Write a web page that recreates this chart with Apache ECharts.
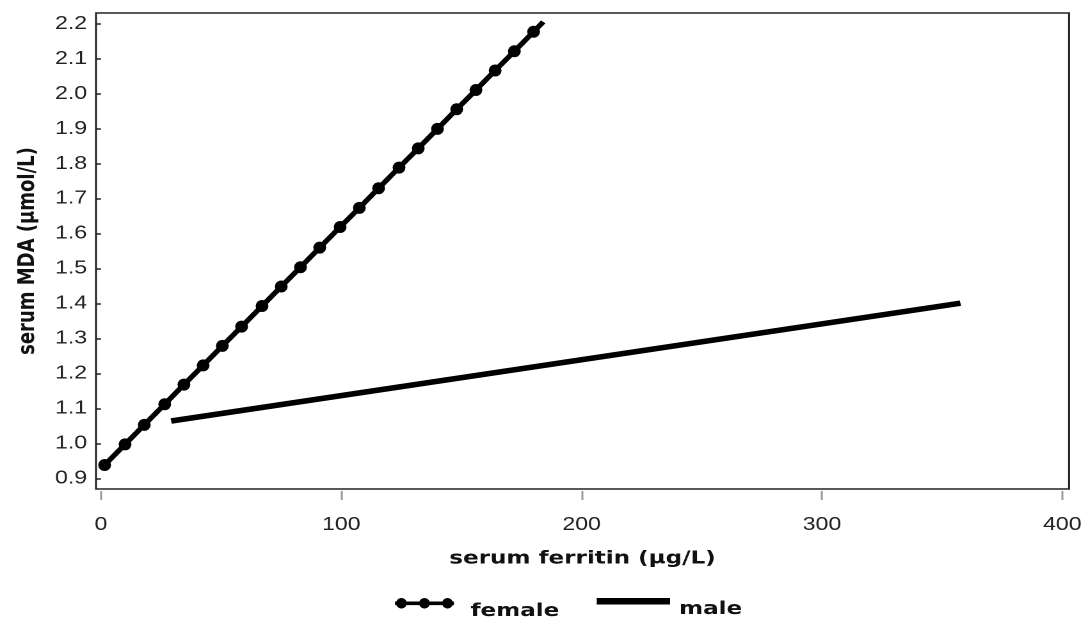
<!DOCTYPE html>
<html>
<head>
<meta charset="utf-8">
<script src="https://cdn.jsdelivr.net/npm/echarts@6/dist/echarts.min.js"></script>
<style>
  html, body { margin: 0; padding: 0; background: #fff; overflow: hidden; }
  #main { width: 849.2px; height: 621px; transform: scaleX(1.28); transform-origin: 0 0; }
</style>
</head>
<body>
<div id="main"></div>
<script>
// ---- data ----
const femaleX = [1.5, 10, 18, 26.5, 34.5, 42.5, 50.5, 58.5, 67, 75, 83, 91, 99.5, 107.5, 115.5, 124, 132, 140, 148, 156, 164, 172, 180, 184];
const femaleY = [0.938, 0.997, 1.053, 1.112, 1.168, 1.223, 1.279, 1.334, 1.393, 1.449, 1.504, 1.560, 1.619, 1.674, 1.730, 1.789, 1.844, 1.900, 1.956, 2.011, 2.067, 2.122, 2.178, 2.206];
const maleX = [29.2, 357.6];
const maleY = [1.064, 1.401];
const xTicks = [0, 100, 200, 300, 400];
const yTicks = [0.9, 1.0, 1.1, 1.2, 1.3, 1.4, 1.5, 1.6, 1.7, 1.8, 1.9, 2.0, 2.1, 2.2];
const seriesNames = ['female', 'male'];
const xTitle = 'serum ferritin (\u03bcg/L)';
const yTitle = 'serum MDA (\u03bcmol/L)';

const femaleData = femaleX.map((x, i) =>
  i === femaleX.length - 1 ? { value: [x, femaleY[i]], symbol: 'none' } : [x, femaleY[i]]);
const maleData = maleX.map((x, i) => [x, maleY[i]]);

const femaleIcon = 'path://M0,3.7H46V7.3H0Z' +
  'M0.8,5.5a4.2,5.3 0 1,1 8.4,0a4.2,5.3 0 1,1 -8.4,0Z' +
  'M18.8,5.5a4.2,5.3 0 1,1 8.4,0a4.2,5.3 0 1,1 -8.4,0Z' +
  'M36.8,5.5a4.2,5.3 0 1,1 8.4,0a4.2,5.3 0 1,1 -8.4,0Z';

const tickFont = { fontFamily: 'Liberation Sans', fontSize: 18, color: '#222' };
const titleFont = { fontFamily: 'DejaVu Sans', fontWeight: 'bold', fontSize: 18, color: '#111' };

const chart = echarts.init(document.getElementById('main'), null, { renderer: 'canvas', devicePixelRatio: 2 });
chart.setOption({
  animation: false,
  backgroundColor: '#fff',
  grid: { left: 75, right: 13.8, top: 13, bottom: 132, show: true, borderColor: '#222', borderWidth: 1.5, backgroundColor: 'transparent' },
  xAxis: {
    type: 'value', min: -2.08, max: 402.8, offset: 2,
    name: xTitle, nameLocation: 'middle', nameGap: 59, nameTextStyle: titleFont,
    axisLine: { show: false },
    splitLine: { show: false },
    axisTick: { show: true, length: 9, lineStyle: { color: '#999', width: 1.5 }, customValues: xTicks },
    axisLabel: Object.assign({ margin: 25, customValues: xTicks, formatter: v => String(v) }, tickFont)
  },
  yAxis: {
    type: 'value', min: 0.8694, max: 2.2315,
    name: yTitle, nameLocation: 'middle', nameGap: 44, nameRotate: 90, nameTextStyle: titleFont,
    axisLine: { show: false },
    splitLine: { show: false },
    axisTick: { show: true, length: 4, lineStyle: { color: '#222', width: 1.5 }, customValues: yTicks },
    axisLabel: Object.assign({ margin: 7, customValues: yTicks, formatter: v => v.toFixed(1) }, tickFont)
  },
  legend: [
    {
      data: [{ name: seriesNames[0], icon: femaleIcon }],
      left: 308.6, top: 598, padding: 0, itemWidth: 46, itemHeight: 11, itemGap: 0,
      formatter: '{t|{name}}',
      textStyle: { rich: { t: Object.assign({ padding: [16, 0, 0, 8] }, titleFont) } }
    },
    {
      data: [{ name: seriesNames[1], icon: 'rect' }],
      left: 466.2, top: 598, padding: 0, itemWidth: 57.3, itemHeight: 6.5, itemGap: 0,
      formatter: '{t|{name}}',
      textStyle: { rich: { t: Object.assign({ padding: [16, 0, 0, 2] }, titleFont) } }
    }
  ],
  series: [
    {
      name: seriesNames[0], type: 'line', data: femaleData,
      symbol: 'circle', symbolSize: [10, 12], showAllSymbol: true,
      itemStyle: { color: '#000' },
      lineStyle: { color: '#000', width: 4.5 }
    },
    {
      name: seriesNames[1], type: 'line', data: maleData,
      symbol: 'none',
      itemStyle: { color: '#000' },
      lineStyle: { color: '#000', width: 5.5 }
    }
  ]
});
</script>
</body>
</html>
